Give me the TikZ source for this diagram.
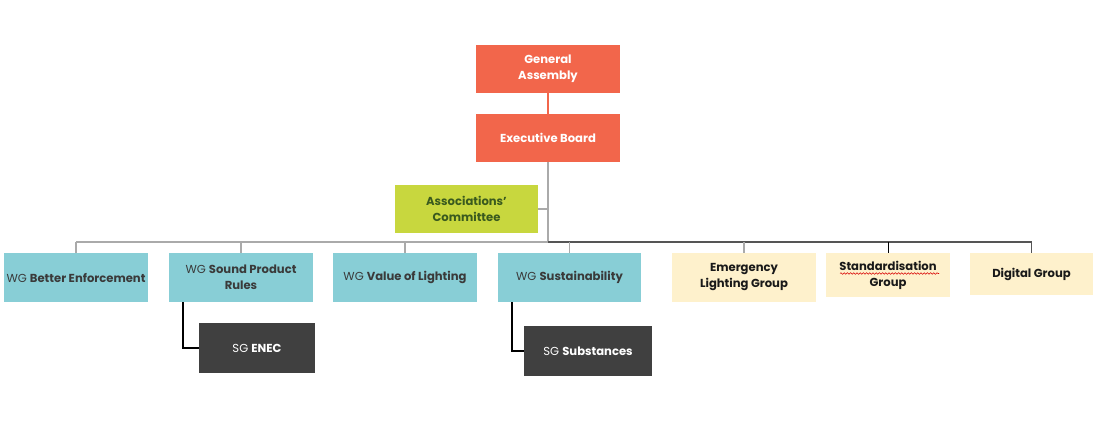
\documentclass[tikz,border=0pt]{standalone}
\usepackage{fontspec}
\setmainfont{Poppins}
\usetikzlibrary{decorations.pathmorphing}
\definecolor{coral}{HTML}{F2664B}
\definecolor{lime}{HTML}{C8D73E}
\definecolor{limetext}{HTML}{3A5A1E}
\definecolor{teal}{HTML}{88CED6}
\definecolor{cream}{HTML}{FEF1CC}
\definecolor{darkbox}{HTML}{404040}
\definecolor{wgtext}{HTML}{3A3A3A}
\definecolor{lgrey}{HTML}{AAAAAA}
\definecolor{dgrey}{HTML}{555555}
\tikzset{
  x=0.75pt, y=-0.75pt,
  base/.style={inner sep=2pt, align=center, font=\fontsize{8.7}{12}\selectfont},
  top/.style={base, fill=coral, text=white, font=\fontsize{8.7}{12}\selectfont\bfseries, minimum width=108pt, minimum height=36pt},
  assoc/.style={base, fill=lime, text=limetext, font=\fontsize{8.7}{12}\selectfont\bfseries, minimum width=107.25pt, minimum height=36pt},
  wg/.style={base, fill=teal, text=wgtext, minimum width=108pt, minimum height=36.75pt},
  grp/.style={base, fill=cream, text=black!90, font=\fontsize{8.7}{12}\selectfont\bfseries},
  sg/.style={base, fill=darkbox, text=white, minimum height=37.5pt},
  bus/.style={line width=1.3pt},
  drop/.style={line width=0.8pt},
  sub/.style={line width=0.8pt, black},
}
\begin{document}
\begin{tikzpicture}
\useasboundingbox (0,0) rectangle (1096,432);
% top
\node[top] (ga) at (548,69) {General\\Assembly};
\node[top] (eb) at (548,138) {Executive Board};
\node[assoc] (ac) at (466.5,209) {Associations’\\Committee};
% working groups
\node[wg] (be) at (76,277.5) {WG \textbf{Better Enforcement}};
\node[wg] (sp) at (241,277.5) {WG \textbf{Sound Product}\\\textbf{Rules}};
\node[wg] (vl) at (405,277.5) {WG \textbf{Value of Lighting}};
\node[wg, minimum width=107.25pt] (su) at (569.5,277.5) {WG \textbf{Sustainability}};
\node[grp, minimum width=108pt, minimum height=36.75pt] (el) at (744,277.5) {Emergency\\Lighting Group};
\node[grp, minimum width=93pt, minimum height=33pt] (sd) at (888,275) {Standardisation\\Group};
\node[grp, minimum width=92.25pt, minimum height=31.5pt] (dg) at (1031.5,274) {Digital Group};
% sub groups
\node[sg, minimum width=87pt] (enec) at (257,348) {SG \textbf{ENEC}};
\node[sg, minimum width=96pt] (subst) at (588,351) {SG \textbf{Substances}};
% coordinates
\coordinate (busy) at (0,242);
\coordinate (e1) at (183,302);
\coordinate (s1) at (512,302);
% connectors
\draw[coral, line width=0.9pt] (ga.south) -- (eb.north);
\draw[lgrey, bus] (eb.south) -- (eb.south |- busy);
\draw[lgrey, drop] (ac.east) -- (ac.east -| eb.south);
\draw[lgrey, bus] (be.north |- busy) -- (eb.south |- busy);
\draw[dgrey, bus] (eb.south |- busy) -- (dg.north |- busy);
\foreach \n in {be,sp,vl}{\draw[lgrey, drop] (\n.north) -- (\n.north |- busy);}
\draw[lgrey, drop] (su.north) -- (su.north |- busy);
\draw[lgrey, drop] (el.north) -- (el.north |- busy);
\draw[black, line width=0.6pt] (sd.north) -- (sd.north |- busy);
\draw[dgrey, drop] (dg.north) -- (dg.north |- busy);
\draw[sub] (e1) |- (enec.west);
\draw[sub] (s1) |- (subst.west);
% spell-check squiggle
\coordinate (q1) at (840,273.5);
\coordinate (q2) at (939,273.5);
\draw[red!85!black, line width=0.4pt, decorate, decoration={snake, amplitude=0.6pt, segment length=2.4pt}] (q1) -- (q2);
\end{tikzpicture}
\end{document}
